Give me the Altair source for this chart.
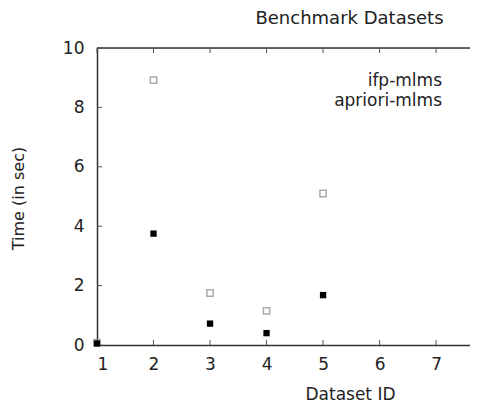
import altair as alt
import pandas as pd

dataset_ids = [1, 2, 3, 4, 5]
ifp_mlms = [0.08, 8.92, 1.75, 1.15, 5.1]
apriori_mlms = [0.05, 3.75, 0.72, 0.4, 1.68]
series_names = ["ifp-mlms", "apriori-mlms"]
x_ticks = [1, 2, 3, 4, 5, 6, 7]
y_ticks = [0, 2, 4, 6, 8, 10]

FONT = "DejaVu Sans"

df = pd.DataFrame({
    "id": dataset_ids * 2,
    "time": ifp_mlms + apriori_mlms,
    "series": [series_names[0]] * len(dataset_ids) + [series_names[1]] * len(dataset_ids),
})

xscale = alt.Scale(domain=[1, 7.6], nice=False, zero=False)
yscale = alt.Scale(domain=[0, 10], nice=False)

xaxis = alt.Axis(values=x_ticks, ticks=False, grid=False, labelPadding=11, labelFontSize=17,
                 labelFont=FONT, labelColor="#222", domainColor="#333", domainWidth=1.5,
                 title="Dataset ID", titleFont=FONT, titleFontSize=17, titleFontWeight="normal",
                 titleColor="#222", titleX=253, titleY=49, titleBaseline="middle",
                 titleAlign="center")
yaxis = alt.Axis(values=y_ticks, ticks=False, grid=False, labelPadding=13, labelFontSize=17,
                 labelFont=FONT, labelColor="#222", domainColor="#333", domainWidth=1.5,
                 title="Time (in sec)", titleFont=FONT, titleFontSize=16, titleFontWeight="normal",
                 titleColor="#222", titleX=-79, titleY=150, titleBaseline="middle", titleAlign="center",
                 titleAngle=-90)

X = alt.X("id:Q", scale=xscale, axis=xaxis)
Y = alt.Y("time:Q", scale=yscale, axis=yaxis)

open_pts = alt.Chart(df[df.series == series_names[0]]).mark_point(
    shape="square", filled=False, stroke="#8a8a8a", strokeWidth=1.5, size=40
).encode(x=X, y=Y)

filled_pts = alt.Chart(df[df.series == series_names[1]]).mark_point(
    shape="square", filled=True, color="black", opacity=1, size=40
).encode(x=X, y=Y)

# top frame line
top_line = alt.Chart(pd.DataFrame({"id": [x_ticks[0]], "id2": [7.6], "time": [y_ticks[-1]]})).mark_rule(
    color="#333", strokeWidth=1.5
).encode(x=X, x2="id2:Q", y=Y)

# inward tick marks
xt = pd.DataFrame({"id": x_ticks, "time": [y_ticks[0]] * len(x_ticks), "t2": [0.17] * len(x_ticks)})
bottom_ticks = alt.Chart(xt).mark_rule(color="#555", strokeWidth=1).encode(x=X, y=Y, y2="t2:Q")
xt_top = pd.DataFrame({"id": x_ticks, "time": [y_ticks[-1]] * len(x_ticks), "t2": [9.83] * len(x_ticks)})
top_ticks = alt.Chart(xt_top).mark_rule(color="#555", strokeWidth=1).encode(x=X, y=Y, y2="t2:Q")
yt = pd.DataFrame({"time": y_ticks, "id": [x_ticks[0]] * len(y_ticks), "i2": [1.09] * len(y_ticks)})
left_ticks = alt.Chart(yt).mark_rule(color="#555", strokeWidth=1).encode(x=X, x2="i2:Q", y=Y)

leg1 = alt.Chart(pd.DataFrame({"t": [series_names[0]]})).mark_text(
    align="right", baseline="middle", font=FONT, fontSize=17, color="#222"
).encode(text="t:N", x=alt.value(345), y=alt.value(33))
leg2 = alt.Chart(pd.DataFrame({"t": [series_names[1]]})).mark_text(
    align="right", baseline="middle", font=FONT, fontSize=17, color="#222"
).encode(text="t:N", x=alt.value(345), y=alt.value(53))

chart = alt.layer(
    top_line, bottom_ticks, top_ticks, left_ticks, open_pts, filled_pts, leg1, leg2
).properties(
    width=373,
    height=297,
    autosize="none",
    padding={"left": 89, "top": 40, "right": 0, "bottom": 60},
    title=alt.TitleParams("Benchmark Datasets", font=FONT, fontSize=18, fontWeight="normal",
                          color="#222", anchor="middle", dx=66, offset=11),
).configure_view(stroke=None).configure(background="white")

chart.save("out.html", embed_options={"renderer": "svg", "actions": False})
